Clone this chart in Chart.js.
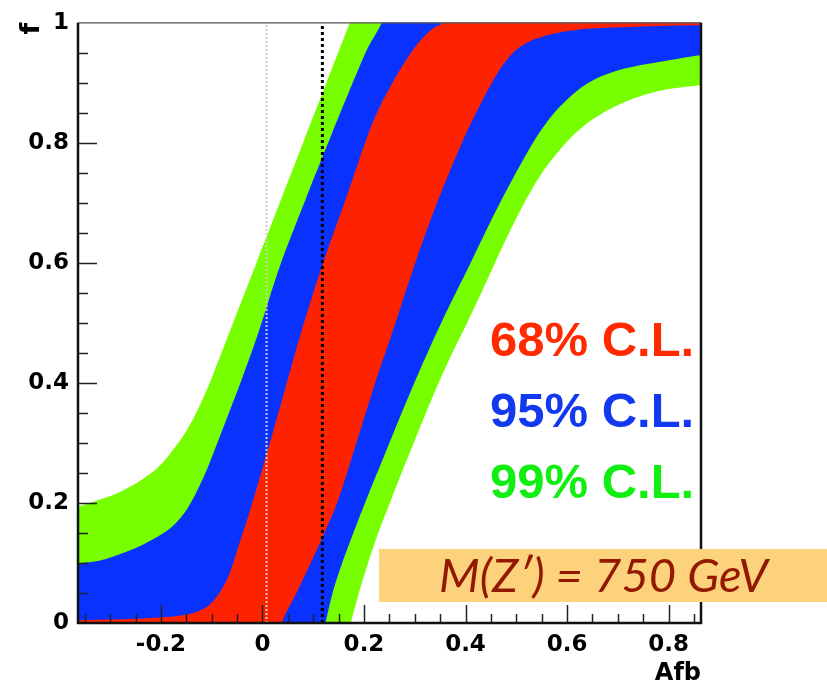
<!DOCTYPE html>
<html>
<head>
<meta charset="utf-8">
<script src="https://cdn.jsdelivr.net/npm/chart.js@4"></script>
<style>
  body { margin: 0; background: #fff; }
  canvas { display: block; }
</style>
</head>
<body>
<canvas id="clChart" width="827" height="688"></canvas>
<script>
// axis ticks
const xTicks = [-0.2, 0, 0.2, 0.4, 0.6, 0.8];
const yTicks = [0, 0.2, 0.4, 0.6, 0.8, 1];

// band edges, [Afb, f] pairs, each edge listed bottom -> top
const green99Left = [[-0.40, -0.05], [-0.40, 0.186], [-0.3635, 0.194], [-0.33, 0.203], [-0.29, 0.215], [-0.245, 0.235], [-0.205, 0.26], [-0.175, 0.29], [-0.15, 0.32], [-0.125, 0.36], [-0.104, 0.40], [-0.081, 0.45], [-0.058, 0.50], [-0.012, 0.60], [0.034, 0.70], [0.080, 0.80], [0.126, 0.90], [0.172, 1.0], [0.195, 1.05]];
const green99Right = [[0.16, -0.05], [0.174, 0.0], [0.190, 0.05], [0.208, 0.10], [0.228, 0.15], [0.251, 0.20], [0.274, 0.25], [0.298, 0.30], [0.322, 0.35], [0.347, 0.40], [0.374, 0.45], [0.403, 0.50], [0.431, 0.55], [0.458, 0.60], [0.486, 0.65], [0.516, 0.70], [0.551, 0.75], [0.598, 0.80], [0.636, 0.83], [0.682, 0.855], [0.735, 0.875], [0.79, 0.888], [0.862, 0.896], [0.95, 0.904], [0.95, 1.05]];

const blue95Left = [[-0.40, -0.05], [-0.40, 0.095], [-0.3635, 0.099], [-0.32, 0.104], [-0.28, 0.115], [-0.232, 0.132], [-0.18, 0.159], [-0.147, 0.192], [-0.114, 0.247], [-0.088, 0.302], [-0.063, 0.357], [-0.043, 0.401], [-0.008, 0.484], [0.034, 0.594], [0.084, 0.704], [0.136, 0.814], [0.168, 0.88], [0.207, 0.957], [0.235, 1.0], [0.255, 1.05]];
const blue95Right = [[0.11, -0.05], [0.124, 0.0], [0.138, 0.05], [0.157, 0.10], [0.179, 0.15], [0.202, 0.20], [0.250, 0.30], [0.299, 0.40], [0.352, 0.50], [0.410, 0.60], [0.468, 0.70], [0.533, 0.80], [0.575, 0.85], [0.625, 0.89], [0.665, 0.91], [0.72, 0.925], [0.79, 0.936], [0.862, 0.946], [0.95, 0.955], [0.95, 1.05]];

const red68Left = [[-0.40, -0.05], [-0.40, 0.004], [-0.3635, 0.0045], [-0.25, 0.007], [-0.19, 0.010], [-0.14, 0.016], [-0.108, 0.028], [-0.085, 0.05], [-0.066, 0.08], [-0.048, 0.126], [-0.023, 0.192], [0.004, 0.269], [0.043, 0.385], [0.076, 0.484], [0.117, 0.594], [0.163, 0.704], [0.208, 0.814], [0.231, 0.86], [0.256, 0.90], [0.277, 0.93], [0.301, 0.96], [0.322, 0.98], [0.340, 0.993], [0.355, 1.0], [0.37, 1.05]];
const red68Right = [[0.03, -0.05], [0.038, 0.0], [0.067, 0.05], [0.095, 0.10], [0.122, 0.15], [0.147, 0.20], [0.185, 0.30], [0.222, 0.40], [0.262, 0.50], [0.301, 0.60], [0.344, 0.70], [0.393, 0.80], [0.421, 0.85], [0.452, 0.90], [0.474, 0.93], [0.500, 0.955], [0.535, 0.972], [0.58, 0.983], [0.64, 0.99], [0.75, 0.994], [0.87, 0.996], [0.95, 0.996], [0.95, 1.05]];

// vertical reference lines (Afb)
const markerAfb = [0.008, 0.118];

const clLabels = ["68% C.L.", "95% C.L.", "99% C.L."];
const massLabel = "M(Z\u2032) = 750 GeV";

const bandColors = ["#ff2200", "#0a32ff", "#77ff00"];
const textColors = ["#ff2a00", "#1238f0", "#11ee11"];

// closed outline: left edge up, right edge back down
function band(left, right) {
    return left.concat(right.slice().reverse()).map(p => ({ x: p[0], y: p[1] }));
}

function bandDataset(pts, color) {
    return {
        data: pts,
        fill: "shape",
        backgroundColor: color,
        borderColor: "rgba(0,0,0,0)",
        borderWidth: 0,
        pointRadius: 0,
        tension: 0.3
    };
}

const axisFont = { family: "DejaVu Sans", weight: "bold", size: 23 };

const decorPlugin = {
    id: "decor",
    afterDatasetsDraw(chart) {
        const ctx = chart.ctx;
        const a = chart.chartArea;
        const xs = chart.scales.x, ys = chart.scales.y;
        ctx.save();
        ctx.strokeStyle = "#222";
        // tick marks drawn inside the frame, ROOT style
        ctx.lineWidth = 1.5;
        for (let i = -7; i <= 17; i++) {
            const px = Math.round(xs.getPixelForValue(i * 0.05)) + 0.5;
            if (px < a.left + 2 || px > a.right - 2) continue;
            const len = (i % 4 === 0) ? 18 : 9;
            ctx.beginPath();
            ctx.moveTo(px, a.bottom);
            ctx.lineTo(px, a.bottom - len);
            ctx.stroke();
        }
        for (let i = 1; i < 20; i++) {
            const py = Math.round(ys.getPixelForValue(i * 0.05)) + 0.5;
            const len = (i % 4 === 0) ? 19 : 10;
            ctx.beginPath();
            ctx.moveTo(a.left, py);
            ctx.lineTo(a.left + len, py);
            ctx.stroke();
        }
        // frame
        ctx.lineWidth = 1.2;
        ctx.strokeStyle = "#555";
        ctx.beginPath();
        ctx.moveTo(a.left, a.top);
        ctx.lineTo(a.right, a.top);
        ctx.stroke();
        ctx.lineWidth = 2.5;
        ctx.strokeStyle = "#111";
        ctx.beginPath();
        ctx.moveTo(a.right, a.top);
        ctx.lineTo(a.right, a.bottom);
        ctx.lineTo(a.left, a.bottom);
        ctx.lineTo(a.left, a.top);
        ctx.stroke();
        ctx.restore();
    },
    afterDraw(chart) {
        const ctx = chart.ctx;
        ctx.save();
        ctx.font = "bold 49px 'Liberation Sans', Arial, sans-serif";
        ctx.textBaseline = "alphabetic";
        ctx.textAlign = "left";
        clLabels.forEach((t, i) => {
            ctx.fillStyle = textColors[i];
            ctx.fillText(t, 490, 356 + i * 71);
        });

        // mass box
        ctx.fillStyle = "#fdd27c";
        ctx.fillRect(379, 549, 448, 53);
        let size = 44;
        ctx.font = "italic " + size + "px Lato, 'Open Sans', sans-serif";
        const w = ctx.measureText(massLabel).width;
        size = size * 329 / w;
        ctx.font = "italic " + size.toFixed(1) + "px Lato, 'Open Sans', sans-serif";
        ctx.fillStyle = "#931800";
        ctx.textAlign = "center";
        ctx.fillText(massLabel, 603.5, 592);
        ctx.restore();
    }
};

const ctx = document.getElementById("clChart").getContext("2d");

new Chart(ctx, {
    type: "line",
    data: {
        datasets: [
            bandDataset(band(red68Left, red68Right), bandColors[0]),
            bandDataset(band(blue95Left, blue95Right), bandColors[1]),
            bandDataset(band(green99Left, green99Right), bandColors[2]),
            {
                data: [{ x: markerAfb[0], y: 0 }, { x: markerAfb[0], y: 1 }],
                borderColor: "#d4cccc",
                borderWidth: 2,
                borderDash: [2, 2],
                pointRadius: 0,
                fill: false,
                order: -1
            },
            {
                data: [{ x: markerAfb[1], y: 0 }, { x: markerAfb[1], y: 1 }],
                borderColor: "#000",
                borderWidth: 3,
                borderDash: [3, 3],
                pointRadius: 0,
                fill: false,
                order: -1
            }
        ]
    },
    options: {
        responsive: false,
        devicePixelRatio: 1,
        animation: false,
        layout: { padding: { top: 17, right: 126, left: 0, bottom: 0 } },
        plugins: {
            legend: { display: false },
            tooltip: { enabled: false },
            filler: { drawTime: "beforeDatasetsDraw" }
        },
        elements: { line: { capBezierPoints: false } },
        scales: {
            x: {
                type: "linear",
                min: -0.3635,
                max: 0.864,
                afterBuildTicks: s => { s.ticks = xTicks.map(v => ({ value: v })); },
                afterFit: s => { s.height = 65; },
                grid: { display: false, drawTicks: false },
                border: { display: false },
                ticks: {
                    font: axisFont,
                    color: "#000",
                    padding: 8,
                    maxRotation: 0,
                    autoSkip: false,
                    callback: v => String(v)
                },
                title: {
                    display: true,
                    text: "Afb",
                    align: "end",
                    color: "#000",
                    font: { family: "DejaVu Sans", weight: "bold", size: 24 },
                    padding: { top: 0, bottom: 0 }
                }
            },
            y: {
                type: "linear",
                min: 0,
                max: 1,
                afterBuildTicks: s => { s.ticks = yTicks.map(v => ({ value: v })); },
                afterFit: s => { s.width = 78; },
                grid: { display: false, drawTicks: false },
                border: { display: false },
                ticks: {
                    font: axisFont,
                    color: "#000",
                    padding: 9,
                    autoSkip: false,
                    callback: v => String(v)
                },
                title: {
                    display: true,
                    text: "f",
                    align: "end",
                    color: "#000",
                    font: { family: "DejaVu Sans", weight: "bold", size: 27 },
                    padding: { top: 16, bottom: 0 }
                }
            }
        }
    },
    plugins: [decorPlugin]
});
</script>
</body>
</html>
